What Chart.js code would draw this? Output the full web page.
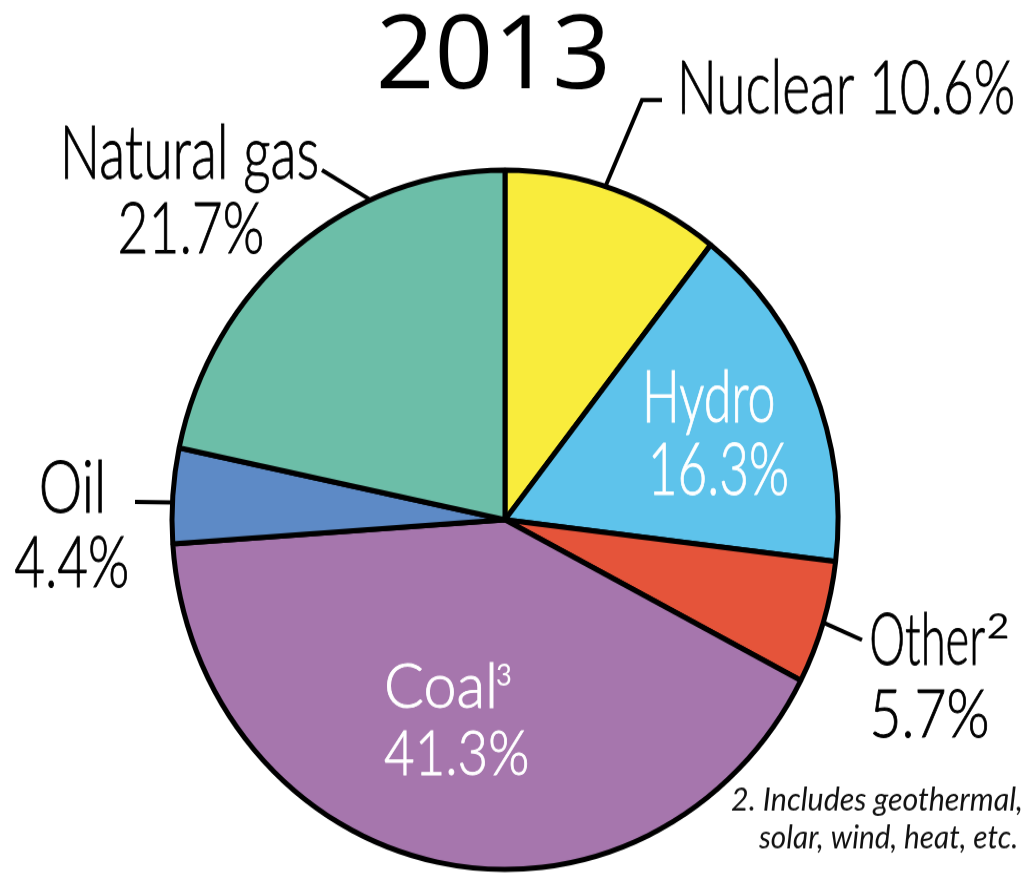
<!DOCTYPE html>
<html>
<head>
<meta charset="utf-8">
<script src="https://cdn.jsdelivr.net/npm/chart.js@4.4.1/dist/chart.umd.min.js"></script>
<style>
  html, body { margin: 0; padding: 0; background: #fff; overflow: hidden; }
  /* the source picture is stretched a little vertically, so the whole chart is too */
  #wrap { position: absolute; left: 0; top: 0; width: 1026px; height: 834px;
          transform: scaleY(1.05); transform-origin: 0 0; }
</style>
</head>
<body>
<div id="wrap"><canvas id="pie"></canvas></div>
<script>
// data
const title = "2013";
const categories = ["Nuclear", "Hydro", "Other", "Coal", "Oil", "Natural gas"];
const shares = [10.6, 16.3, 5.7, 41.3, 4.4, 21.7];
const superscripts = ["", "", "2", "3", "", ""];
const sliceColors = ["#f9ec3c", "#5ec3eb", "#e5543a", "#a676ad", "#5d8ac6", "#6cbea8"];
const footnote = ["2. Includes geothermal,", "solar, wind, heat, etc."];

const SY = 1.05; // vertical stretch of the wrapper

// label placement, in screen pixels: [left, right, baseline, cap height]
const labelLayout = [
  { lines: [[682, 1013, 113, 53]], color: "#000", leader: { frac: 0.46, pts: [[642, 100], [662, 100]] } },
  { lines: [[647, 773, 422, 52], [653, 787, 495, 52]], color: "#fff" },
  { lines: [[872, 985, 665, 52], [873, 987, 737, 48]], color: "#000", sup: [988, 1008, 638, 25],
    leader: { frac: 0.5, pts: [[862, 640]] } },
  { lines: [[387, 494, 708, 45], [385, 527, 775, 45]], color: "#fff", sup: [497, 511, 686, 22] },
  { lines: [[42, 102, 512, 52], [15, 127, 587, 50]], color: "#000", leader: { frac: 0.43, pts: [[135, 502]] } },
  { lines: [[65, 317, 178, 53], [120, 262, 253, 50]], color: "#000", leader: { frac: 0.695, pts: [[322, 170]] } },
];

const labelFont = { family: "Lato", weight: 300, style: "normal", ratio: 0.7165, stroke: 0.9 };

const labelPlugin = {
  id: "pieLabels",
  afterDatasetsDraw(chart) {
    const ctx = chart.ctx;
    const meta = chart.getDatasetMeta(0);

    function fitText(str, box, f, color) {
      const [x0, x1, base, capH] = box;
      const size = capH / SY / f.ratio;
      ctx.save();
      ctx.font = `${f.style} ${f.weight} ${size}px ${f.family}`;
      ctx.fillStyle = color;
      ctx.strokeStyle = color;
      ctx.textAlign = "left";
      ctx.textBaseline = "alphabetic";
      const m = ctx.measureText(str);
      const left = m.actualBoundingBoxLeft, w = m.actualBoundingBoxLeft + m.actualBoundingBoxRight;
      const sx = (x1 - x0) / w;
      ctx.translate(x0, base / SY);
      ctx.scale(sx, 1);
      ctx.fillText(str, left, 0);
      if (f.stroke) {
        ctx.lineWidth = f.stroke;
        ctx.strokeText(str, left, 0);
      }
      ctx.restore();
    }

    function anchor(i, frac) {
      const arc = meta.data[i];
      const a = arc.startAngle + (arc.endAngle - arc.startAngle) * frac;
      return [arc.x + Math.cos(a) * arc.outerRadius, arc.y + Math.sin(a) * arc.outerRadius];
    }

    // title
    fitText(title, [380, 605, 88, 73], { family: "'Open Sans'", weight: 400, style: "normal", ratio: 0.714 }, "#000");

    categories.forEach((name, i) => {
      const lay = labelLayout[i];
      const pct = shares[i].toFixed(1) + "%";

      if (lay.leader) {
        const [ax, ay] = anchor(i, lay.leader.frac);
        ctx.save();
        ctx.strokeStyle = "#000";
        ctx.lineWidth = 4;
        ctx.lineJoin = "miter";
        ctx.beginPath();
        ctx.moveTo(ax, ay);
        lay.leader.pts.forEach(p => ctx.lineTo(p[0], p[1] / SY));
        ctx.stroke();
        ctx.restore();
      }

      if (lay.lines.length === 1) {
        fitText(name + " " + pct, lay.lines[0], labelFont, lay.color);
      } else {
        fitText(name, lay.lines[0], labelFont, lay.color);
        fitText(pct, lay.lines[1], labelFont, lay.color);
      }
      if (lay.sup && superscripts[i]) {
        fitText(superscripts[i], lay.sup, { family: "Lato", weight: 400, style: "normal", ratio: 0.7165 }, lay.color);
      }
    });

    // footnote
    const noteFont = { family: "Lato", weight: 400, style: "italic", ratio: 0.7165 };
    fitText(footnote[0], [731, 1021, 811, 23], noteFont, "#111");
    fitText(footnote[1], [758, 1016, 848, 23], noteFont, "#111");
  }
};

new Chart(document.getElementById("pie"), {
  type: "pie",
  data: {
    labels: categories,
    datasets: [{
      data: shares,
      backgroundColor: sliceColors,
      borderColor: "#000",
      borderWidth: 5,
      radius: 333,
    }],
  },
  options: {
    responsive: true,
    maintainAspectRatio: false,
    animation: false,
    radius: 333,
    layout: { padding: { left: 170, right: 186, top: 160, bottom: 4 } },
    plugins: {
      legend: { display: false },
      tooltip: { enabled: false },
    },
  },
  plugins: [labelPlugin],
});
</script>
</body>
</html>
